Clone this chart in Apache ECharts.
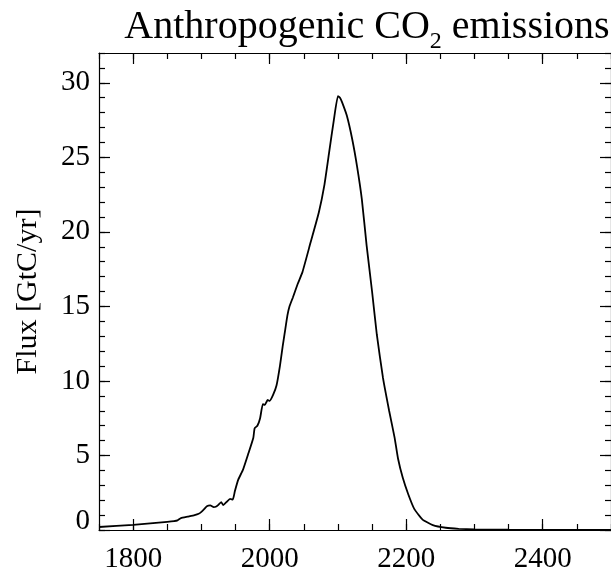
<!DOCTYPE html>
<html>
<head>
<meta charset="utf-8">
<script src="https://cdn.jsdelivr.net/npm/echarts@6/dist/echarts.min.js"></script>
<style>
  html, body { margin: 0; padding: 0; background: #fff; }
  #chart { width: 611px; height: 574px; }
</style>
</head>
<body>
<div id="chart"></div>
<script>
// Anthropogenic CO2 flux, historical record followed by a scenario that peaks near 2100
const years = [1750, 1800, 1850, 1860, 1865, 1870, 1880, 1890, 1896, 1900, 1904, 1908, 1913, 1918,
  1921, 1924, 1929, 1932, 1937, 1942, 1946, 1949, 1954, 1961, 1969, 1976, 1978, 1982, 1986,
  1990, 1993, 1997, 2000, 2005, 2010, 2015, 2019, 2022, 2026, 2029, 2034, 2041, 2048, 2060,
  2072, 2080, 2087, 2094, 2100, 2103, 2106, 2113, 2121, 2128, 2135, 2142, 2150, 2157, 2166,
  2175, 2183, 2188, 2195, 2203, 2212, 2224, 2239, 2258, 2277, 2300, 2350, 2400, 2500];
const flux = [0.2, 0.35, 0.55, 0.6, 0.65, 0.8, 0.9, 1.0, 1.09, 1.22, 1.4, 1.6, 1.65, 1.54,
  1.56, 1.65, 1.87, 1.67, 1.89, 2.09, 2.04, 2.6, 3.38, 4.05, 5.16, 6.17, 6.83, 6.99, 7.5,
  8.44, 8.39, 8.72, 8.66, 9.06, 9.69, 11.0, 12.3, 13.2, 14.4, 15.0, 15.6, 16.5, 17.3, 19.3,
  21.3, 23.1, 25.3, 27.5, 29.1, 29.0, 28.7, 27.8, 26.2, 24.4, 22.2, 19.1, 16.0, 13.1, 10.2,
  8.0, 6.2, 4.8, 3.5, 2.4, 1.4, 0.7, 0.33, 0.15, 0.08, 0.04, 0.02, 0.01, 0.0];

const xMajorTicks = [1800, 2000, 2200, 2400];
const yMajorTicks = [0, 5, 10, 15, 20, 25, 30];

const X_MIN = 1750, X_MAX = 2500, Y_MIN = 0, Y_MAX = 32;
const FONT = "'Liberation Serif', 'Times New Roman', Times, serif";
const INK = '#000';

function xAxisDef(position, major) {
  return {
    type: 'value', position: position, min: X_MIN, max: X_MAX,
    interval: 50,
    splitLine: { show: false },
    axisLine: { show: !major, onZero: false, lineStyle: { color: INK, width: 1.2 } },
    axisTick: major
      ? { show: true, inside: true, length: 11, customValues: xMajorTicks, lineStyle: { color: INK, width: 1.2 } }
      : { show: true, inside: true, length: 6, lineStyle: { color: INK, width: 1.2 } },
    axisLabel: (major && position === 'bottom')
      ? { show: true, customValues: xMajorTicks, margin: 15, color: INK, fontFamily: FONT, fontSize: 29,
          formatter: v => String(v) }
      : { show: false }
  };
}

function yAxisDef(position, major) {
  const def = {
    type: 'value', position: position, min: Y_MIN, max: Y_MAX,
    interval: 1,
    splitLine: { show: false },
    axisLine: { show: !major, onZero: false, lineStyle: { color: INK, width: 1.2 } },
    axisTick: major
      ? { show: true, inside: true, length: 11, customValues: yMajorTicks, lineStyle: { color: INK, width: 1.2 } }
      : { show: true, inside: true, length: 6, lineStyle: { color: INK, width: 1.2 } },
    axisLabel: { show: false }
  };
  if (major && position === 'left') {
    def.axisLabel = {
      show: true, customValues: yMajorTicks, margin: 9, color: INK,
      fontFamily: FONT, fontSize: 29,
      formatter: v => (v === 0 ? '{z|0}' : String(v)),
      rich: { z: { fontFamily: FONT, fontSize: 29, color: INK, padding: [0, 0, 18, 0] } }
    };
    def.name = 'Flux [GtC/yr]';
    def.nameLocation = 'middle';
    def.nameGap = 56;
    def.nameTextStyle = { fontFamily: FONT, fontSize: 30, color: INK };
  }
  return def;
}

const chart = echarts.init(document.getElementById('chart'), null, { renderer: 'canvas' });
chart.setOption({
  backgroundColor: '#fff',
  animation: false,
  title: {
    text: '{a|Anthropogenic CO}{s|2}{a| emissions}',
    left: 362, top: -5, textAlign: 'center',
    textStyle: {
      fontWeight: 'normal',
      rich: {
        a: { fontFamily: FONT, fontSize: 40, fontWeight: 'normal', color: INK },
        s: { fontFamily: FONT, fontSize: 24, fontWeight: 'normal', color: INK, padding: [30, 0, 0, 0] }
      }
    }
  },
  grid: { left: 99, top: 53, width: 518, height: 479, containLabel: false },
  xAxis: [
    xAxisDef('bottom', false), xAxisDef('bottom', true),
    xAxisDef('top', false), xAxisDef('top', true)
  ],
  yAxis: [
    yAxisDef('left', false), yAxisDef('left', true),
    yAxisDef('right', false), yAxisDef('right', true)
  ],
  series: [{
    type: 'line',
    xAxisIndex: 0, yAxisIndex: 0,
    data: years.map((y, i) => [y, flux[i]]),
    showSymbol: false,
    smooth: 0.15,
    lineStyle: { color: INK, width: 1.8 },
    clip: true
  }]
});
</script>
</body>
</html>
